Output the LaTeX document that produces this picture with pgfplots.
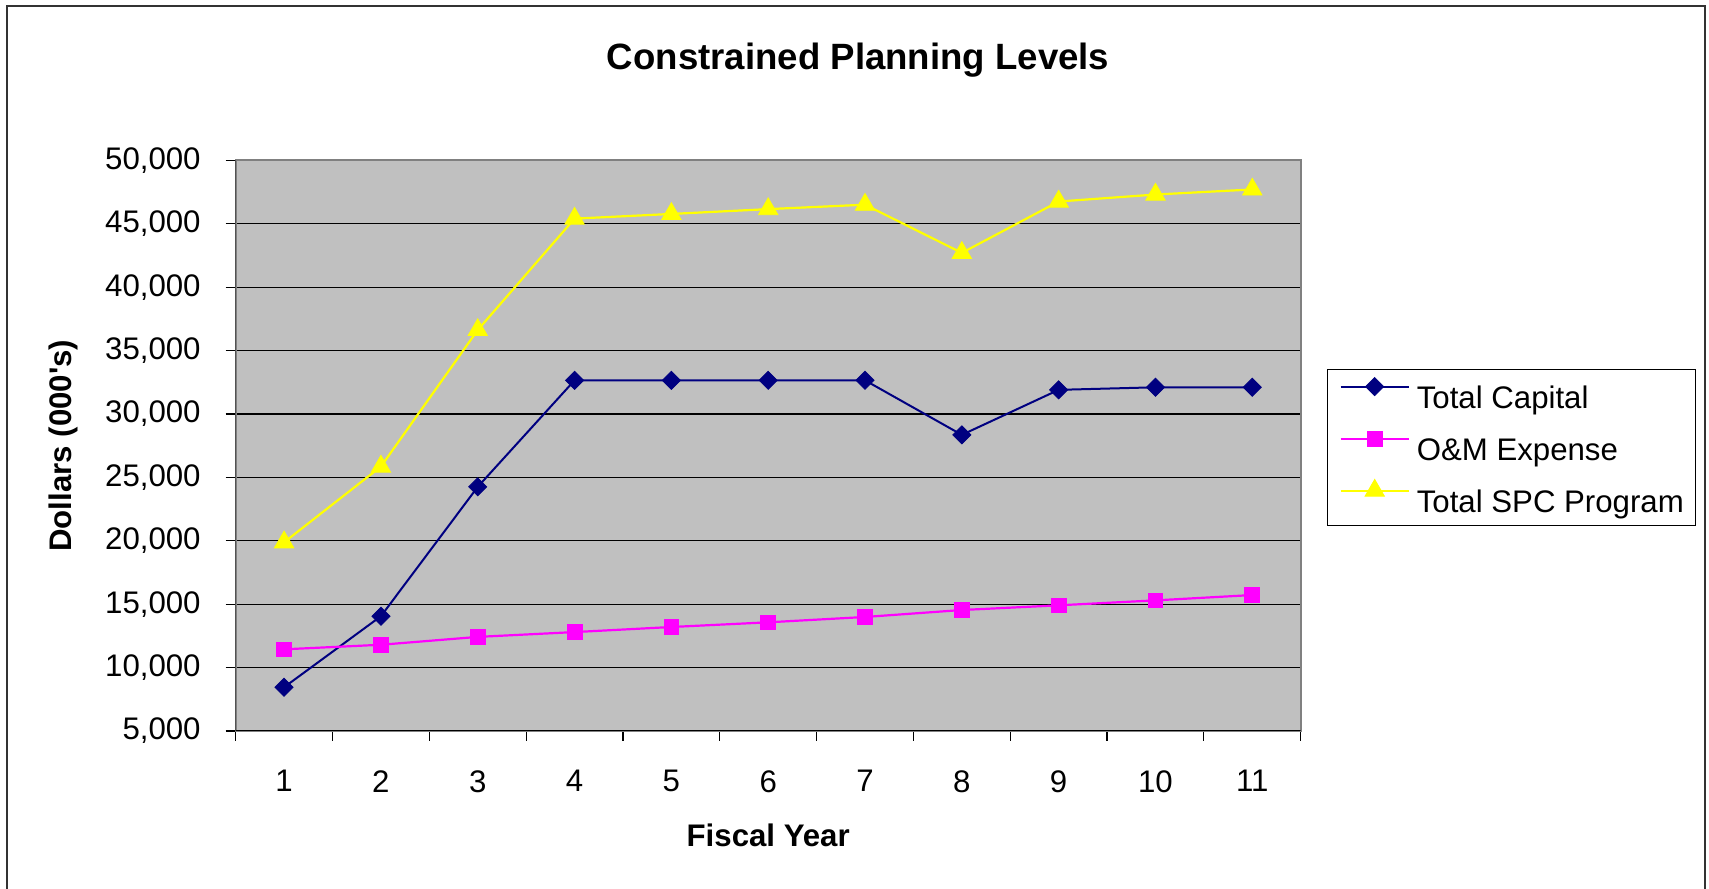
\documentclass[border=0pt]{standalone}
\usepackage{fontspec}
\setmainfont{Liberation Sans}
\usepackage{pgfplots}
\pgfplotsset{compat=1.18}
\definecolor{navyc}{HTML}{000080}
\definecolor{magc}{HTML}{FF00FF}
\definecolor{yelc}{HTML}{FFFF00}
\definecolor{plotgray}{HTML}{C0C0C0}
\definecolor{bordergray}{HTML}{808080}
\begin{document}
\begin{tikzpicture}
\useasboundingbox (-117.85pt,-79pt) rectangle (736.65pt,365.5pt);
\draw[black!80, line width=0.6pt] (-114.35pt,-85pt) -- (-114.35pt,362.5pt) -- (734.65pt,362.5pt) -- (734.65pt,-85pt);
\node[anchor=base, font=\bfseries\fontsize{18.3}{22}\selectfont] at (311.2pt,330.8pt) {Constrained Planning Levels};
\node[anchor=base, rotate=90, font=\bfseries\fontsize{15.6}{18}\selectfont] at (-82pt,142.7pt) {Dollars (000\textquotesingle s)};
\node[anchor=base, font=\bfseries\fontsize{15.6}{18}\selectfont] at (266.25pt,-57.8pt) {Fiscal Year};
\begin{axis}[
  at={(0pt,0pt)}, anchor=south west,
  scale only axis, width=532.5pt, height=285.35pt,
  xmin=0.5, xmax=11.5, ymin=5000, ymax=50000,
  axis background/.style={fill=plotgray},
  axis line style={draw=bordergray, line width=1pt},
  /pgf/number format/assume math mode=true,
  /pgf/number format/1000 sep={,},
  scaled y ticks=false,
  xtick pos=bottom, ytick pos=left,
  ytick={5000,10000,15000,20000,25000,30000,35000,40000,45000,50000},
  tick align=outside, major tick length=5pt,
  tick style={black, line width=0.6pt},
  ymajorgrids, grid style={black, line width=0.6pt},
  yticklabel style={font=\fontsize{15.6}{18}\selectfont, inner sep=0pt},
  yticklabel shift=12.35pt,
  xtick={0.5,1.5,2.5,3.5,4.5,5.5,6.5,7.5,8.5,9.5,10.5,11.5},
  xticklabels={},
  extra x ticks={1,2,3,4,5,6,7,8,9,10,11},
  extra x tick labels={1,2,3,4,5,6,7,8,9,10,11},
  extra x tick style={major tick length=0pt, tick style={draw=none},
    xticklabel style={font=\fontsize{15.6}{18}\selectfont, inner sep=0pt, anchor=north, yshift=-19.5pt}},
  legend style={at={(1.0247,0.6343)}, anchor=north west, draw=black, line width=0.6pt,
    fill=white, inner xsep=6pt, inner ysep=0pt, column sep=3.5pt,
    font=\fontsize{15.6}{18}\selectfont,
    nodes={inner sep=0pt, text height=19.4pt, text depth=6.6pt}},
  legend cell align=left,
  legend image code/.code={
    \draw[mark repeat=2, mark phase=2, #1] plot coordinates {(0pt,4.5pt) (17pt,4.5pt) (34pt,4.5pt)};
  },
]
\addplot[color=navyc, line width=1pt, mark=square*, mark size=3.2pt,
  mark options={rotate=45, solid, fill=navyc, line width=0.4pt}] coordinates {
  (1,8450) (2,14050) (3,24250) (4,32650) (5,32650) (6,32650) (7,32650) (8,28350) (9,31900) (10,32100) (11,32100)};
\addlegendentry{Total Capital}
\addplot[color=magc, line width=1.1pt, mark=square*, mark size=3.7pt,
  mark options={solid, fill=magc, line width=0.4pt}] coordinates {
  (1,11440) (2,11800) (3,12420) (4,12800) (5,13200) (6,13570) (7,13990) (8,14540) (9,14910) (10,15300) (11,15720)};
\addlegendentry{O\&M Expense}
\addplot[color=yelc, line width=1.1pt, mark=triangle*, mark size=5.6pt,
  mark options={solid, fill=yelc, line width=0.4pt}] coordinates {
  (1,19880) (2,25850) (3,36620) (4,45400) (5,45770) (6,46150) (7,46500) (8,42700) (9,46750) (10,47300) (11,47700)};
\addlegendentry{Total SPC Program}
\draw[black, line width=0.8pt] (rel axis cs:0,1) -- (rel axis cs:0,0) -- (rel axis cs:1,0);
\end{axis}
\end{tikzpicture}
\end{document}
